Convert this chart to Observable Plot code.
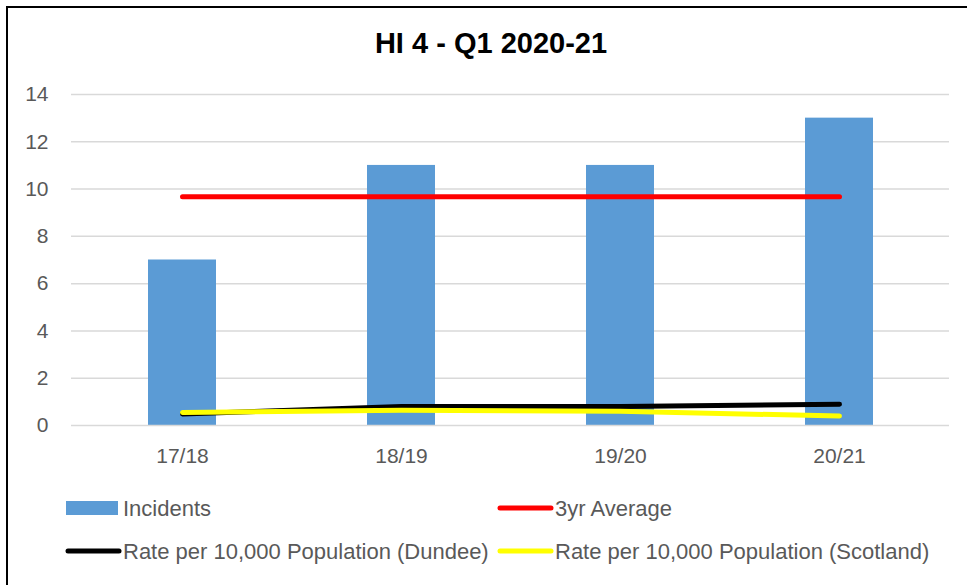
<!DOCTYPE html>
<html>
<head>
<meta charset="utf-8">
<script src="https://cdn.jsdelivr.net/npm/d3@7"></script>
<script src="https://cdn.jsdelivr.net/npm/@observablehq/plot@0.6"></script>
<style>
  html, body { margin: 0; padding: 0; background: #fff; }
  body { width: 967px; height: 585px; position: relative; overflow: hidden; font-family: "Liberation Sans", Arial, sans-serif; }
  #frame { position: absolute; left: 6px; top: 6px; width: 980px; height: 600px; border-left: 2px solid #000; border-top: 2px solid #000; z-index: 5; pointer-events: none; }
  #title { position: absolute; left: 491px; top: 0; transform: translateX(-50%); white-space: nowrap; font-family: "Liberation Sans", Arial, sans-serif; font-weight: bold; font-size: 29px; line-height: 29px; padding-top: 29px; color: #000; }
  #chart { position: absolute; left: 0; top: 75px; }
  #legend { position: absolute; left: 0; top: 480px; }
</style>
</head>
<body>
<div id="frame"></div>
<div id="title">HI 4 - Q1 2020-21</div>
<div id="chart"></div>
<div id="legend"></div>
<script>
const years = ["17/18", "18/19", "19/20", "20/21"];
const incidents = [7, 11, 11, 13];
const avg3yr = [9.67, 9.67, 9.67, 9.67];
const rateDundee = [0.49, 0.8, 0.8, 0.9];
const rateScotland = [0.55, 0.64, 0.6, 0.4];
const yTicks = [0, 2, 4, 6, 8, 10, 12, 14];

const rows = years.map((y, i) => ({year: y, incidents: incidents[i], avg: avg3yr[i], dundee: rateDundee[i], scotland: rateScotland[i]}));

const chart = Plot.plot({
  width: 967,
  height: 405,
  marginTop: 19,
  marginBottom: 55,
  marginLeft: 71,
  marginRight: 18,
  style: {fontFamily: "'Liberation Sans', Arial, sans-serif", fontSize: "21px", color: "#595959", background: "transparent", overflow: "visible"},
  x: {domain: years, paddingInner: 0.69, paddingOuter: 0.345, label: null, tickSize: 0, tickPadding: 23},
  y: {domain: [0, 14], ticks: yTicks, label: null, tickSize: 0, tickPadding: 23},
  marks: [
    Plot.gridY(yTicks.filter(t => t > 0), {stroke: "#d9d9d9", strokeOpacity: 1, strokeWidth: 1.5}),
    Plot.barY(rows, {x: "year", y: "incidents", fill: "#5b9bd5"}),
    Plot.ruleY([0], {stroke: "#d9d9d9", strokeWidth: 1.5}),
    Plot.line(rows, {x: "year", y: "avg", stroke: "#ff0000", strokeWidth: 5, strokeLinecap: "round"}),
    Plot.line(rows, {x: "year", y: "dundee", stroke: "#000000", strokeWidth: 5, strokeLinecap: "round"}),
    Plot.line(rows, {x: "year", y: "scotland", stroke: "#ffff00", strokeWidth: 5, strokeLinecap: "round"})
  ]
});
document.getElementById("chart").appendChild(chart);

// Legend (y values relative to legend box top at page y=480)
const legendLabels = ["Incidents", "3yr Average", "Rate per 10,000 Population (Dundee)", "Rate per 10,000 Population (Scotland)"];
const legendColors = ["#5b9bd5", "#ff0000", "#000000", "#ffff00"];
const legendTypes = ["rect", "line", "line", "line"];
const ns = "http://www.w3.org/2000/svg";
const lsvg = document.createElementNS(ns, "svg");
lsvg.setAttribute("width", 967);
lsvg.setAttribute("height", 105);
const colX = [66, 498];
const rowY = [28, 71];
legendLabels.forEach((label, i) => {
  const x = colX[i % 2], cy = rowY[Math.floor(i / 2)];
  if (legendTypes[i] === "rect") {
    const r = document.createElementNS(ns, "rect");
    r.setAttribute("x", x); r.setAttribute("y", cy - 7); r.setAttribute("width", 52); r.setAttribute("height", 14);
    r.setAttribute("fill", legendColors[i]);
    lsvg.appendChild(r);
  } else {
    const l = document.createElementNS(ns, "line");
    l.setAttribute("x1", x + 2); l.setAttribute("x2", x + 53); l.setAttribute("y1", cy); l.setAttribute("y2", cy);
    l.setAttribute("stroke", legendColors[i]); l.setAttribute("stroke-width", 5); l.setAttribute("stroke-linecap", "round");
    lsvg.appendChild(l);
  }
  const t = document.createElementNS(ns, "text");
  t.setAttribute("x", x + 57);
  t.setAttribute("y", cy + 8);
  t.setAttribute("fill", "#595959");
  t.setAttribute("font-size", "22px");
  t.setAttribute("font-family", "'Liberation Sans', Arial, sans-serif");
  t.textContent = label;
  lsvg.appendChild(t);
});
document.getElementById("legend").appendChild(lsvg);
</script>
</body>
</html>
